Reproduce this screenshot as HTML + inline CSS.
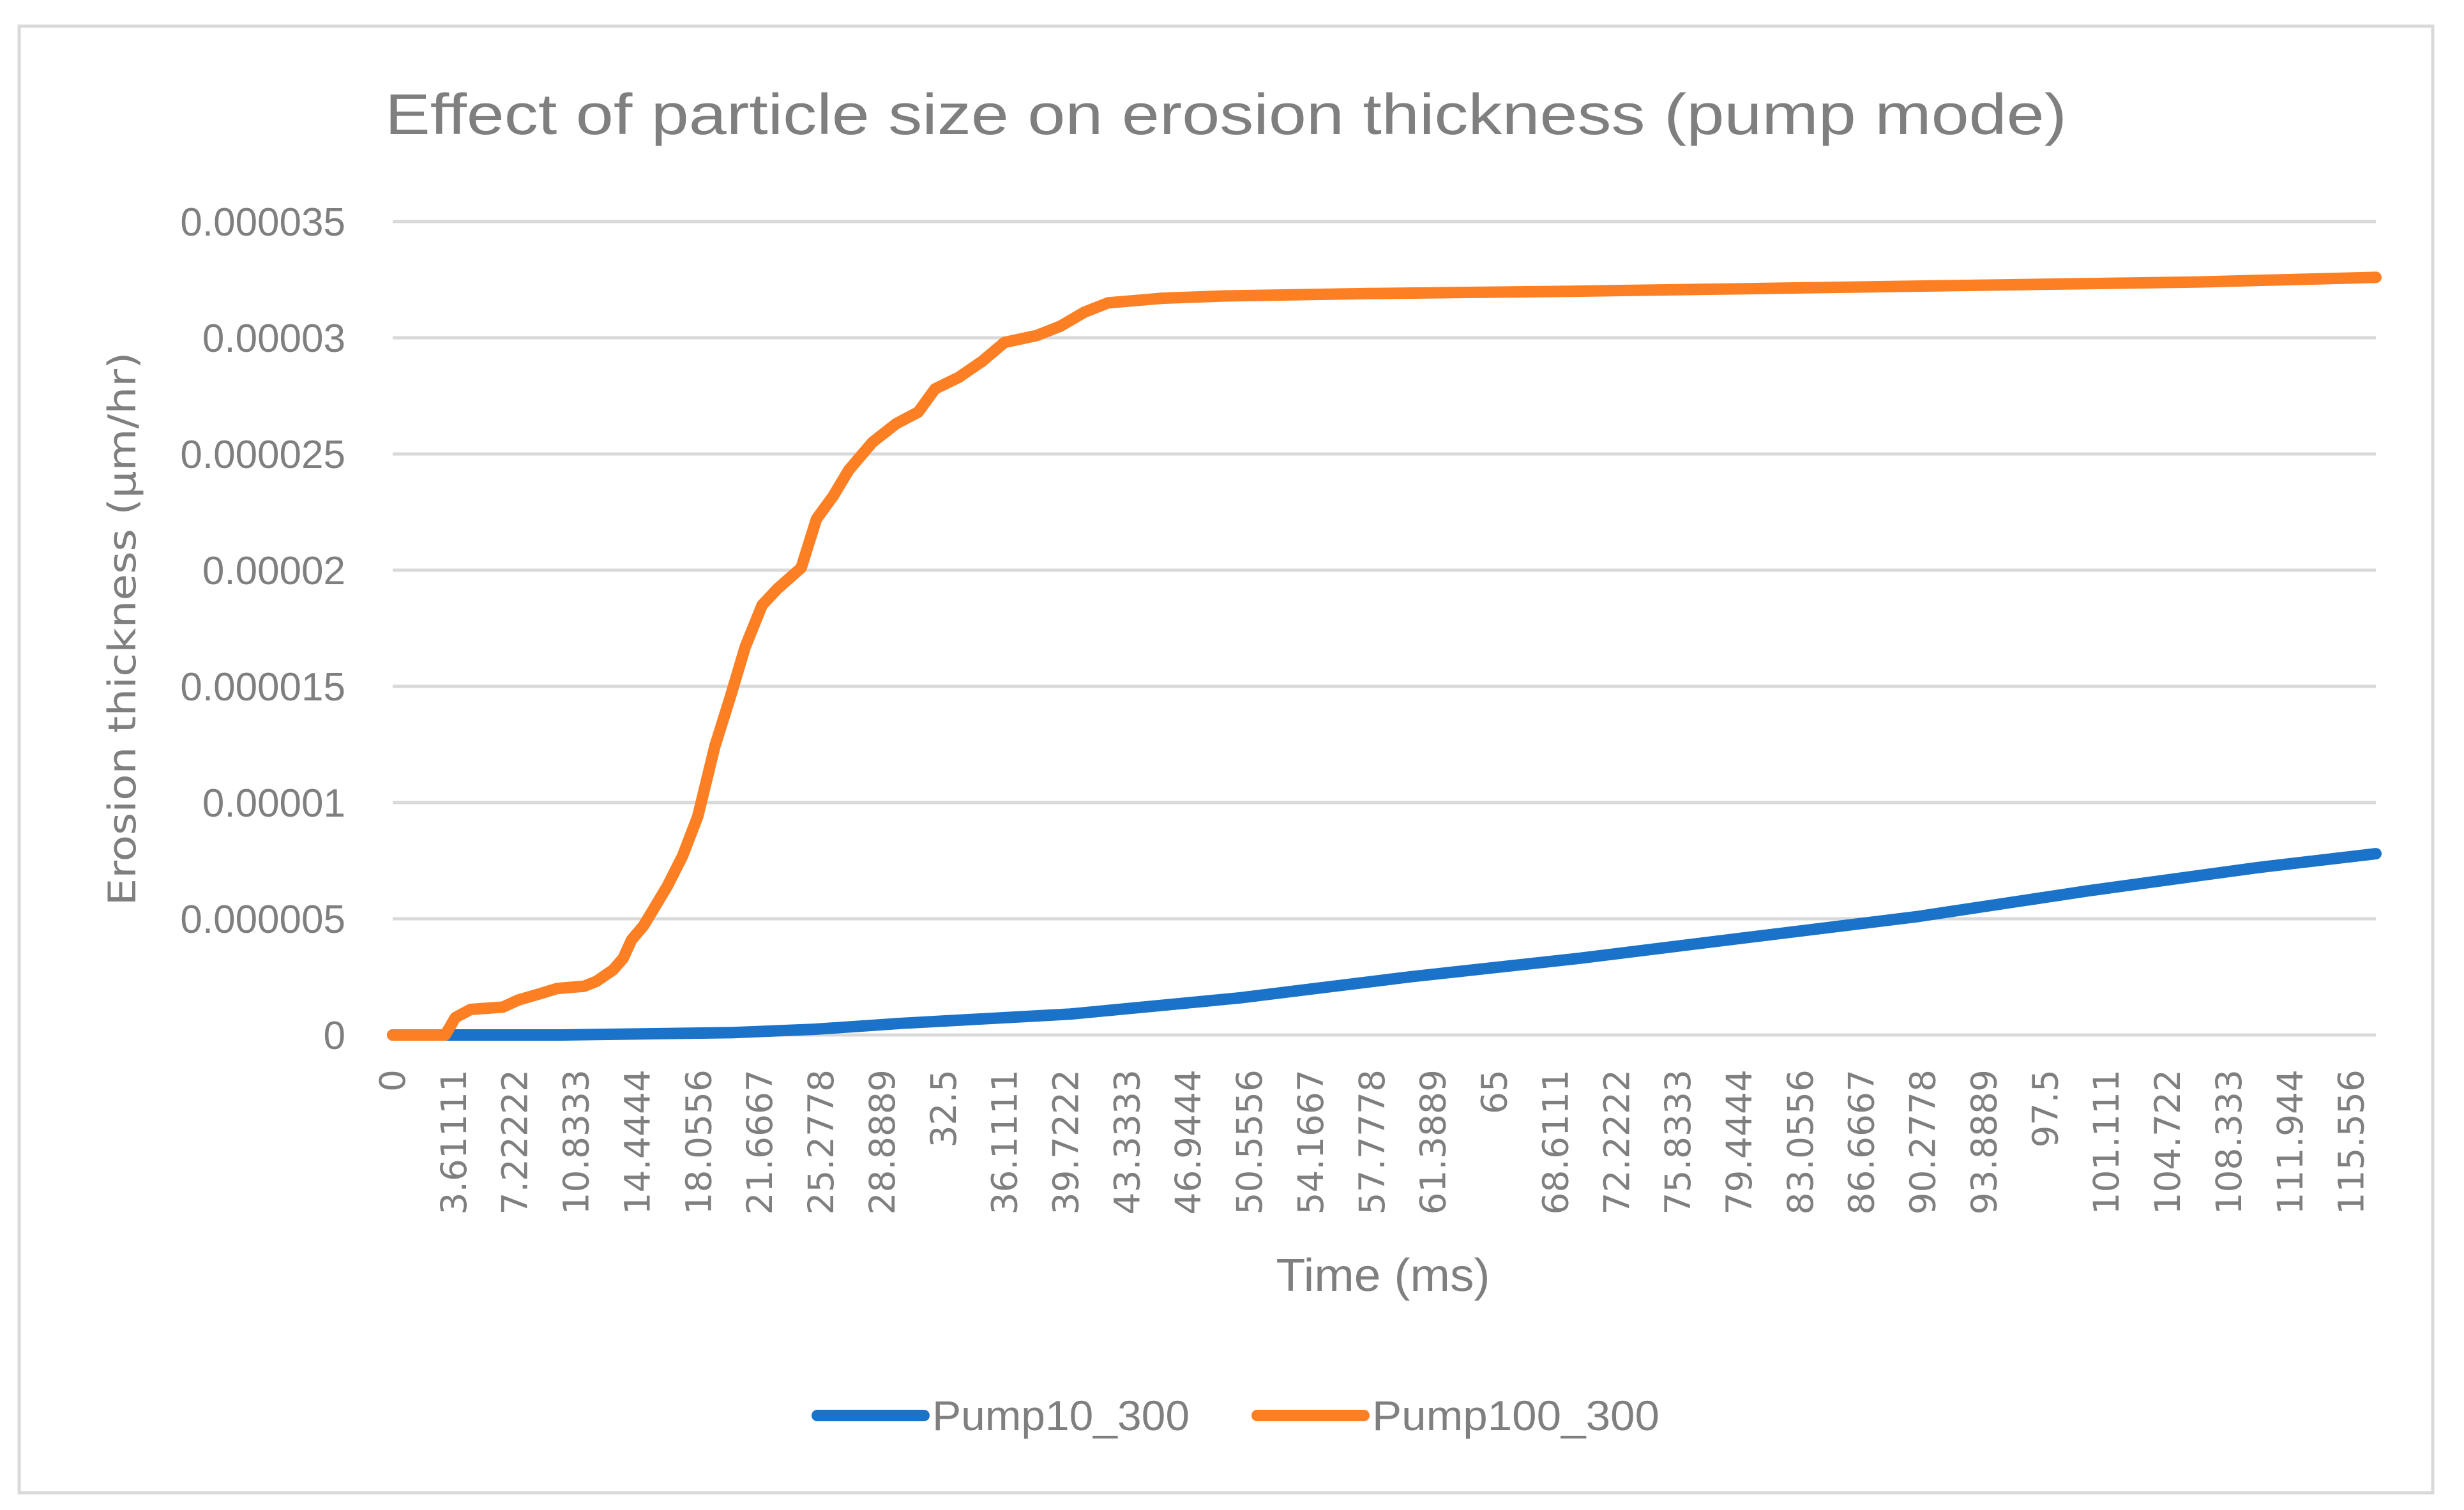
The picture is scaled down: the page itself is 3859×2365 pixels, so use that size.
<!DOCTYPE html>
<html><head><meta charset="utf-8"><style>
html,body{margin:0;padding:0;background:#fff;}
svg{display:block;}
text{font-family:"Liberation Sans",sans-serif;fill:#7f7f7f;}
</style></head><body>
<svg id="chart" width="3859" height="2365" viewBox="0 0 3859 2365">
<rect x="30" y="41" width="3780" height="2297" fill="#fff" stroke="#d9d9d9" stroke-width="5"/>
<text x="603" y="210" font-size="90" textLength="2634" lengthAdjust="spacingAndGlyphs">Effect of particle size on erosion thickness (pump mode)</text>
<g id="grid"></g>
<g id="yticks"></g>
<g id="xticks"></g>
<g id="series"></g>
<text transform="translate(212,985) rotate(-90)" text-anchor="middle" font-size="60" style="font-family:'DejaVu Sans',sans-serif" textLength="867" lengthAdjust="spacingAndGlyphs">Erosion thickness (μm/hr)</text>
<text x="2166" y="2022" text-anchor="middle" font-size="72" textLength="335" lengthAdjust="spacingAndGlyphs">Time (ms)</text>
<g>
<line x1="1280" y1="2217" x2="1447" y2="2217" stroke="#1a73c8" stroke-width="18" stroke-linecap="round"/>
<text x="1460" y="2240" font-size="66" textLength="403" lengthAdjust="spacingAndGlyphs">Pump10_300</text>
<line x1="1969" y1="2217" x2="2136" y2="2217" stroke="#fd7f24" stroke-width="18" stroke-linecap="round"/>
<text x="2149" y="2240" font-size="66" textLength="450" lengthAdjust="spacingAndGlyphs">Pump100_300</text>
</g>
</svg>
<script>
const xTickLabels=["0","3.61111","7.22222","10.8333","14.4444","18.0556","21.6667","25.2778","28.8889","32.5","36.1111","39.7222","43.3333","46.9444","50.5556","54.1667","57.7778","61.3889","65","68.6111","72.2222","75.8333","79.4444","83.0556","86.6667","90.2778","93.8889","97.5","101.111","104.722","108.333","111.944","115.556"];
const yTickLabels=["0","0.000005","0.00001","0.000015","0.00002","0.000025","0.00003","0.000035"];
const yTickValues=[0,5,10,15,20,25,30,35];
const pump100T=[0,2.6,3.1,3.7,4.6,6.5,7.4,8.8,9.7,11.3,12,13,13.6,14.1,14.8,16.2,17.1,18,19,19.9,20.8,21.8,22.7,24.1,25,26,26.9,28.3,29.7,31,32,33.4,34.8,36.1,38,39.4,40.8,42.2,45.4,49.1,57.5,69.5,78.8,88,97.3,106.6,117];
const pump100V=[0,0,0,0.75,1.1,1.2,1.5,1.8,2.0,2.1,2.3,2.8,3.3,4.1,4.7,6.4,7.7,9.4,12.4,14.5,16.7,18.5,19.2,20.1,22.2,23.2,24.3,25.5,26.3,26.8,27.8,28.3,29,29.8,30.1,30.5,31.1,31.5,31.7,31.8,31.9,32,32.1,32.2,32.3,32.4,32.6];
const pump10T=[0,3,10,20,25,30,40,50,60,70,80,90,100,110,117];
const pump10V=[0,0,0,0.1,0.25,0.5,0.9,1.6,2.5,3.3,4.2,5.1,6.2,7.2,7.8];
const L=615,R=3721,Y0=1621,Y35=347,TMAX=117;
const xs=t=>L+t/TMAX*(R-L);
const ys=v=>Y0-v/35*(Y0-Y35);
const NS="http://www.w3.org/2000/svg";
const grid=document.getElementById('grid'),yt=document.getElementById('yticks'),xt=document.getElementById('xticks'),ser=document.getElementById('series');
yTickValues.forEach((v,i)=>{
 const ln=document.createElementNS(NS,'line');
 
 
 ln.setAttribute('x1',L);ln.setAttribute('x2',R);ln.setAttribute('y1',ys(v));ln.setAttribute('y2',ys(v));
 ln.setAttribute('stroke','#d9d9d9');ln.setAttribute('stroke-width','5');
 grid.appendChild(ln);
 const tx=document.createElementNS(NS,'text');
 
 
 tx.setAttribute('x',541);tx.setAttribute('y',ys(v)+22);tx.setAttribute('text-anchor','end');tx.setAttribute('font-size','62');
 tx.textContent=yTickLabels[i];
 yt.appendChild(tx);
});
xTickLabels.forEach(s=>{
 const t=parseFloat(s);
 const tx=document.createElementNS(NS,'text');
 
 
 const x=xs(t)+19,y=1675;
 tx.setAttribute('transform','translate('+x+','+y+') rotate(-90)');
 tx.setAttribute('text-anchor','end');tx.setAttribute('font-size','55');
 tx.setAttribute('style',"font-family:'DejaVu Sans',sans-serif");
 tx.textContent=s;
 xt.appendChild(tx);
});
function drawLine(T,V,color,name){
 const p=document.createElementNS(NS,'polyline');
 
 
 p.setAttribute('points',T.map((t,i)=>xs(t).toFixed(1)+','+ys(V[i]).toFixed(1)).join(' '));
 p.setAttribute('fill','none');p.setAttribute('stroke',color);p.setAttribute('stroke-width','18');
 p.setAttribute('stroke-linejoin','round');p.setAttribute('stroke-linecap','round');
 ser.appendChild(p);
}
drawLine(pump10T,pump10V,'#1a73c8','series-pump10-300');
drawLine(pump100T,pump100V,'#fd7f24','series-pump100-300');
</script>
</body></html>
